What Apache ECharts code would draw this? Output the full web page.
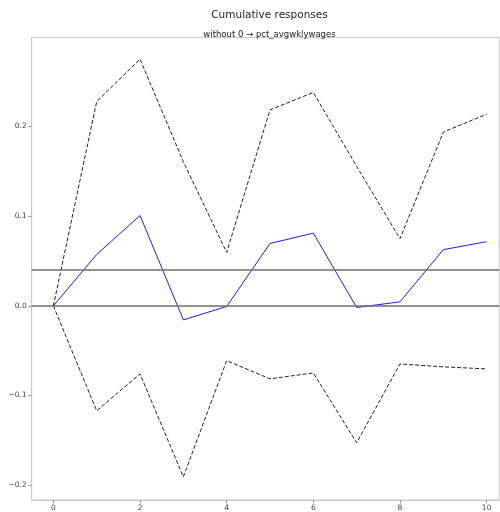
<!DOCTYPE html>
<html>
<head>
<meta charset="utf-8">
<script src="https://cdn.jsdelivr.net/npm/echarts@6/dist/echarts.min.js"></script>
<style>
  html, body { margin: 0; padding: 0; background: #fff; }
  #chart { width: 500px; height: 512px; }
</style>
</head>
<body>
<div id="chart"></div>
<script>
// Horizon steps
const steps = [0, 1, 2, 3, 4, 5, 6, 7, 8, 9, 10];
// Cumulative impulse response and its error band
const cumResponse = [0, 0.0574, 0.1008, -0.0156, -0.0007, 0.0696, 0.0811, -0.0018, 0.0045, 0.0627, 0.0716];
const upperBand = [0, 0.2278, 0.2752, 0.1607, 0.0596, 0.2186, 0.2380, 0.1556, 0.0749, 0.1938, 0.2138];
const lowerBand = [0, -0.1170, -0.0759, -0.1907, -0.0611, -0.0814, -0.0748, -0.1526, -0.0648, -0.0680, -0.0703];
// Reference levels: zero and the long-run effect
const zeroLevel = 0;
const longRunLevel = 0.0363;
// Tick labels
const xTicks = [0, 2, 4, 6, 8, 10];
const yTicks = [-0.2, -0.1, 0.0, 0.1, 0.2];

const pairs = arr => steps.map((s, i) => [s, arr[i]]);
const fmtY = v => {
  const s = Math.abs(v).toFixed(1);
  return v < -1e-9 ? '\u2212' + s : s;
};

const font = 'DejaVu Sans';
const chart = echarts.init(document.getElementById('chart'), null, { renderer: 'canvas' });
chart.setOption({
  animation: false,
  backgroundColor: '#fff',
  title: [
    { text: 'Cumulative responses', left: 264.5, top: 5, textAlign: 'center',
      textStyle: { fontFamily: font, fontSize: 10.5, fontWeight: 'normal', color: '#222' } },
    { text: 'without 0 \u2192 pct_avgwklywages', left: 264.5, top: 25, textAlign: 'center',
      textStyle: { fontFamily: font, fontSize: 8.5, fontWeight: 'normal', color: '#222' } }
  ],
  grid: { left: 31.7, top: 37.5, width: 467.5, height: 464.2, show: true, borderColor: '#c8c8c8', borderWidth: 1 },
  xAxis: {
    type: 'value', min: -0.5, max: 10.29,
    axisLine: { show: true, onZero: false, lineStyle: { color: '#c8c8c8' } },
    axisTick: { show: true, length: 3.5, lineStyle: { color: '#999' }, customValues: xTicks },
    axisLabel: { fontFamily: font, fontSize: 7.5, color: '#444', margin: 4, customValues: xTicks,
      formatter: v => String(v) },
    splitLine: { show: false }
  },
  yAxis: {
    type: 'value', min: -0.2165, max: 0.2993,
    axisLine: { show: true, onZero: false, lineStyle: { color: '#c8c8c8' } },
    axisTick: { show: true, length: 3.5, lineStyle: { color: '#999' }, customValues: yTicks },
    axisLabel: { fontFamily: font, fontSize: 7.5, color: '#444', margin: 5, customValues: yTicks,
      formatter: fmtY },
    splitLine: { show: false }
  },
  series: [
    {
      type: 'line', data: pairs(cumResponse), symbol: 'none',
      lineStyle: { color: '#1a1aff', width: 1 }, z: 3,
      markLine: {
        silent: true, symbol: 'none', label: { show: false },
        lineStyle: { color: '#6e6e6e', width: 1.6, type: 'solid' },
        data: [{ yAxis: zeroLevel }, { yAxis: longRunLevel }]
      }
    },
    {
      type: 'line', data: pairs(upperBand), symbol: 'none',
      lineStyle: { color: '#222', width: 1, type: [4, 2] }, z: 2
    },
    {
      type: 'line', data: pairs(lowerBand), symbol: 'none',
      lineStyle: { color: '#222', width: 1, type: [4, 2] }, z: 2
    }
  ]
});
</script>
</body>
</html>
